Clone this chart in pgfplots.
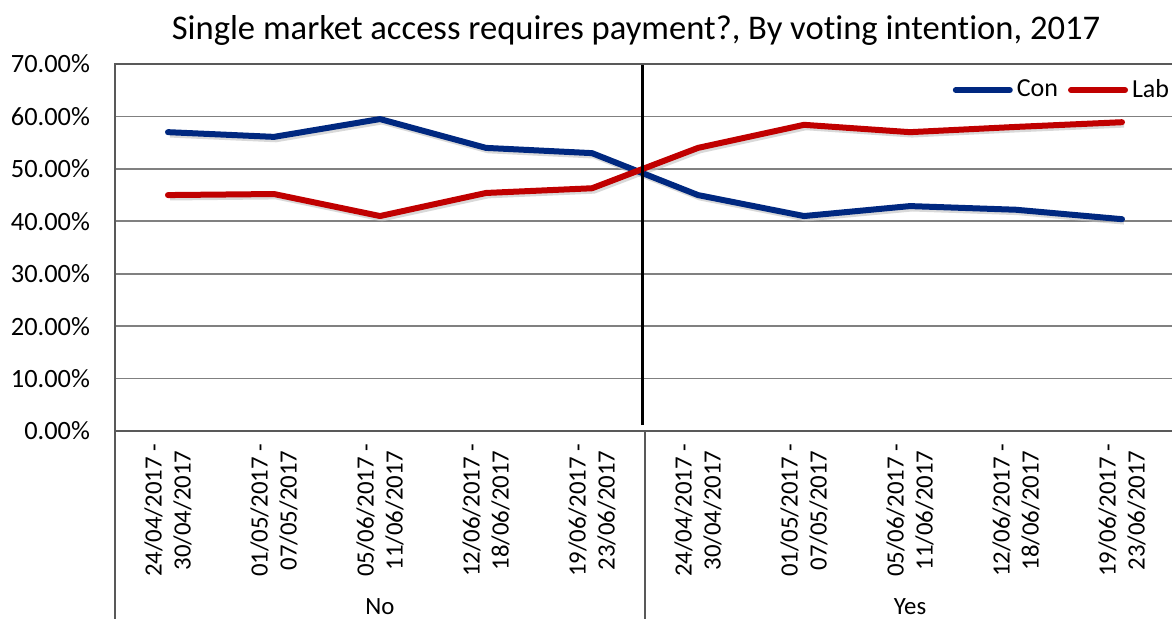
\documentclass[border=0pt]{standalone}
\usepackage{fontspec}
\setmainfont[Ligatures=NoCommon]{Carlito}
\usepackage{pgfplots}
\pgfplotsset{compat=1.18}
\definecolor{conblue}{RGB}{0,40,128}
\definecolor{labred}{RGB}{192,0,0}
\definecolor{framec}{RGB}{89,89,89}
\definecolor{gridc}{RGB}{128,128,128}
\begin{document}
\begin{tikzpicture}
\useasboundingbox (0,0) rectangle (586pt,309.5pt);
\clip (0,0) rectangle (586pt,309.5pt);
\begin{axis}[
  at={(57.5pt,94pt)}, anchor=south west,
  scale only axis, width=530pt, height=183.5pt,
  xmin=0, xmax=10, ymin=0, ymax=70,
  axis line style={draw=framec, line width=1pt},
  ytick={0,10,20,30,40,50,60,70},
  yticklabels={0.00\%,10.00\%,20.00\%,30.00\%,40.00\%,50.00\%,60.00\%,70.00\%},
  ymajorgrids, grid style={draw=gridc, line width=0.8pt},
  major tick length=0pt,
  xtick={0.5,1.5,2.5,3.5,4.5,5.5,6.5,7.5,8.5,9.5},
  xticklabels={{24/04/2017 -\\30/04/2017},{01/05/2017 -\\07/05/2017},{05/06/2017 -\\11/06/2017},{12/06/2017 -\\18/06/2017},{19/06/2017 -\\23/06/2017},{24/04/2017 -\\30/04/2017},{01/05/2017 -\\07/05/2017},{05/06/2017 -\\11/06/2017},{12/06/2017 -\\18/06/2017},{19/06/2017 -\\23/06/2017}},
  xticklabel style={rotate=90, anchor=east, align=center, font=\fontsize{12.4}{14.5}\selectfont},
  xticklabel shift=3pt,
  yticklabel style={font=\fontsize{13.2}{15}\selectfont},
  yticklabel shift=9pt,
  legend style={at={(0.79,0.929)}, anchor=west, draw=none, fill=none, legend columns=2,
    font=\fontsize{13}{15}\selectfont, inner sep=0pt,
    /tikz/every even column/.append style={column sep=3pt}},
  legend cell align=left,
  legend image code/.code={\draw[#1] (0pt,0pt) -- (27pt,0pt);},
  clip=false,
]
\addplot[black!25, opacity=0.6, line width=3pt, line join=round, shift={(1pt,-1.2pt)}, forget plot] coordinates {
(0.5,57.0) (1.5,56.1) (2.5,59.5) (3.5,54.0) (4.5,53.0) (5.5,45.0) (6.5,41.0) (7.5,42.9) (8.5,42.2) (9.5,40.4)};
\addplot[black!25, opacity=0.6, line width=3pt, line join=round, shift={(1pt,-1.2pt)}, forget plot] coordinates {
(0.5,45.0) (1.5,45.2) (2.5,41.0) (3.5,45.4) (4.5,46.3) (5.5,54.0) (6.5,58.4) (7.5,57.0) (8.5,58.0) (9.5,58.9)};
\addplot[conblue, line width=3pt, line join=round, line cap=round] coordinates {
(0.5,57.0) (1.5,56.1) (2.5,59.5) (3.5,54.0) (4.5,53.0) (5.5,45.0) (6.5,41.0) (7.5,42.9) (8.5,42.2) (9.5,40.4)};
\addlegendentry{Con}
\addplot[labred, line width=3pt, line join=round, line cap=round] coordinates {
(0.5,45.0) (1.5,45.2) (2.5,41.0) (3.5,45.4) (4.5,46.3) (5.5,54.0) (6.5,58.4) (7.5,57.0) (8.5,58.0) (9.5,58.9)};
\addlegendentry{Lab}
\addplot[black, line width=1.5pt, forget plot] coordinates {(4.98,1.1) (4.98,69.8)};
\draw[framec, line width=1pt] (axis cs:0,0) -- ++(0,-100pt);
\draw[framec, line width=1pt] (axis cs:5,0) -- ++(0,-100pt);
\draw[framec, line width=1pt] (axis cs:10,0) -- ++(0,-100pt);
\node[font=\fontsize{12.4}{14.5}\selectfont] at (axis cs:2.5,0) [yshift=-88pt] {No};
\node[font=\fontsize{12.4}{14.5}\selectfont] at (axis cs:7.5,0) [yshift=-88pt] {Yes};
\end{axis}
\node[font=\fontsize{17.3}{20}\selectfont] at (318pt,294.5pt) {Single market access requires payment?, By voting intent\kern0pt ion, 2017};
\end{tikzpicture}
\end{document}
